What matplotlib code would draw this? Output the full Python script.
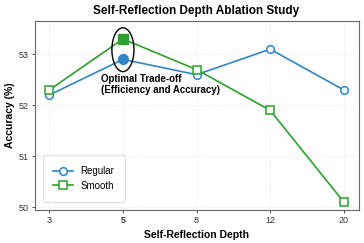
import numpy as np
import matplotlib.pyplot as plt
from matplotlib.patches import Ellipse

plt.rcParams['font.family'] = ['Liberation Sans', 'DejaVu Sans']

# Data
depths = ['3', '5', '8', '12', '20']
regular = [52.2, 52.9, 52.6, 53.1, 52.3]
smooth = [52.3, 53.3, 52.7, 51.9, 50.1]
best_idx = 1

blue = '#2e86c8'
green = '#2ca02c'

fig, ax = plt.subplots(figsize=(3.64, 2.43), dpi=100)
fig.subplots_adjust(left=0.095, right=0.985, top=0.915, bottom=0.135)

x = np.arange(len(depths))
ax.plot(x, regular, color=blue, marker='o', markersize=5.5, markerfacecolor='white',
        markeredgewidth=1.1, linewidth=1.2, label='Regular', zorder=3)
ax.plot(x, smooth, color=green, marker='s', markersize=5.5, markerfacecolor='white',
        markeredgewidth=1.1, linewidth=1.2, label='Smooth', zorder=3)

# highlight the chosen depth
ax.plot(x[best_idx], regular[best_idx], marker='o', markersize=7, color=blue, zorder=4)
ax.plot(x[best_idx], smooth[best_idx], marker='s', markersize=7, color=green, zorder=4)
ax.add_patch(Ellipse((x[best_idx], 53.09), 0.3, 0.86, fill=False, edgecolor='black',
                     linewidth=1.0, zorder=5))
ax.text(0.7, 52.4, 'Optimal Trade-off\n(Efficiency and Accuracy)', fontsize=7,
        fontweight='bold', ha='left', va='center', linespacing=1.1, zorder=6)

ax.set_xticks(x)
ax.set_xticklabels(depths)
ax.get_xticklabels()[best_idx].set_fontweight('bold')
ax.set_xlim(-0.2, 4.2)
ax.set_ylim(49.94, 53.66)
ax.set_yticks([50, 51, 52, 53])
ax.tick_params(labelsize=6.5, length=2, width=0.6, pad=2, colors='#333333')

ax.set_xlabel('Self-Reflection Depth', fontsize=7.5, fontweight='bold', labelpad=4)
ax.set_ylabel('Accuracy (%)', fontsize=7.5, fontweight='bold', labelpad=3)
ax.set_title('Self-Reflection Depth Ablation Study', fontsize=8.5, fontweight='bold', pad=5)

ax.grid(True, color='#dddddd', linestyle=':', linewidth=0.5)
for s in ax.spines.values():
    s.set_color('#666666')
    s.set_linewidth(0.8)

ax.legend(loc='lower left', fontsize=7, frameon=True, edgecolor='#dddddd',
          borderpad=1.1, handlelength=2.0, labelspacing=0.5, bbox_to_anchor=(0.01, 0.02))

fig.savefig('out.png', dpi=100)
